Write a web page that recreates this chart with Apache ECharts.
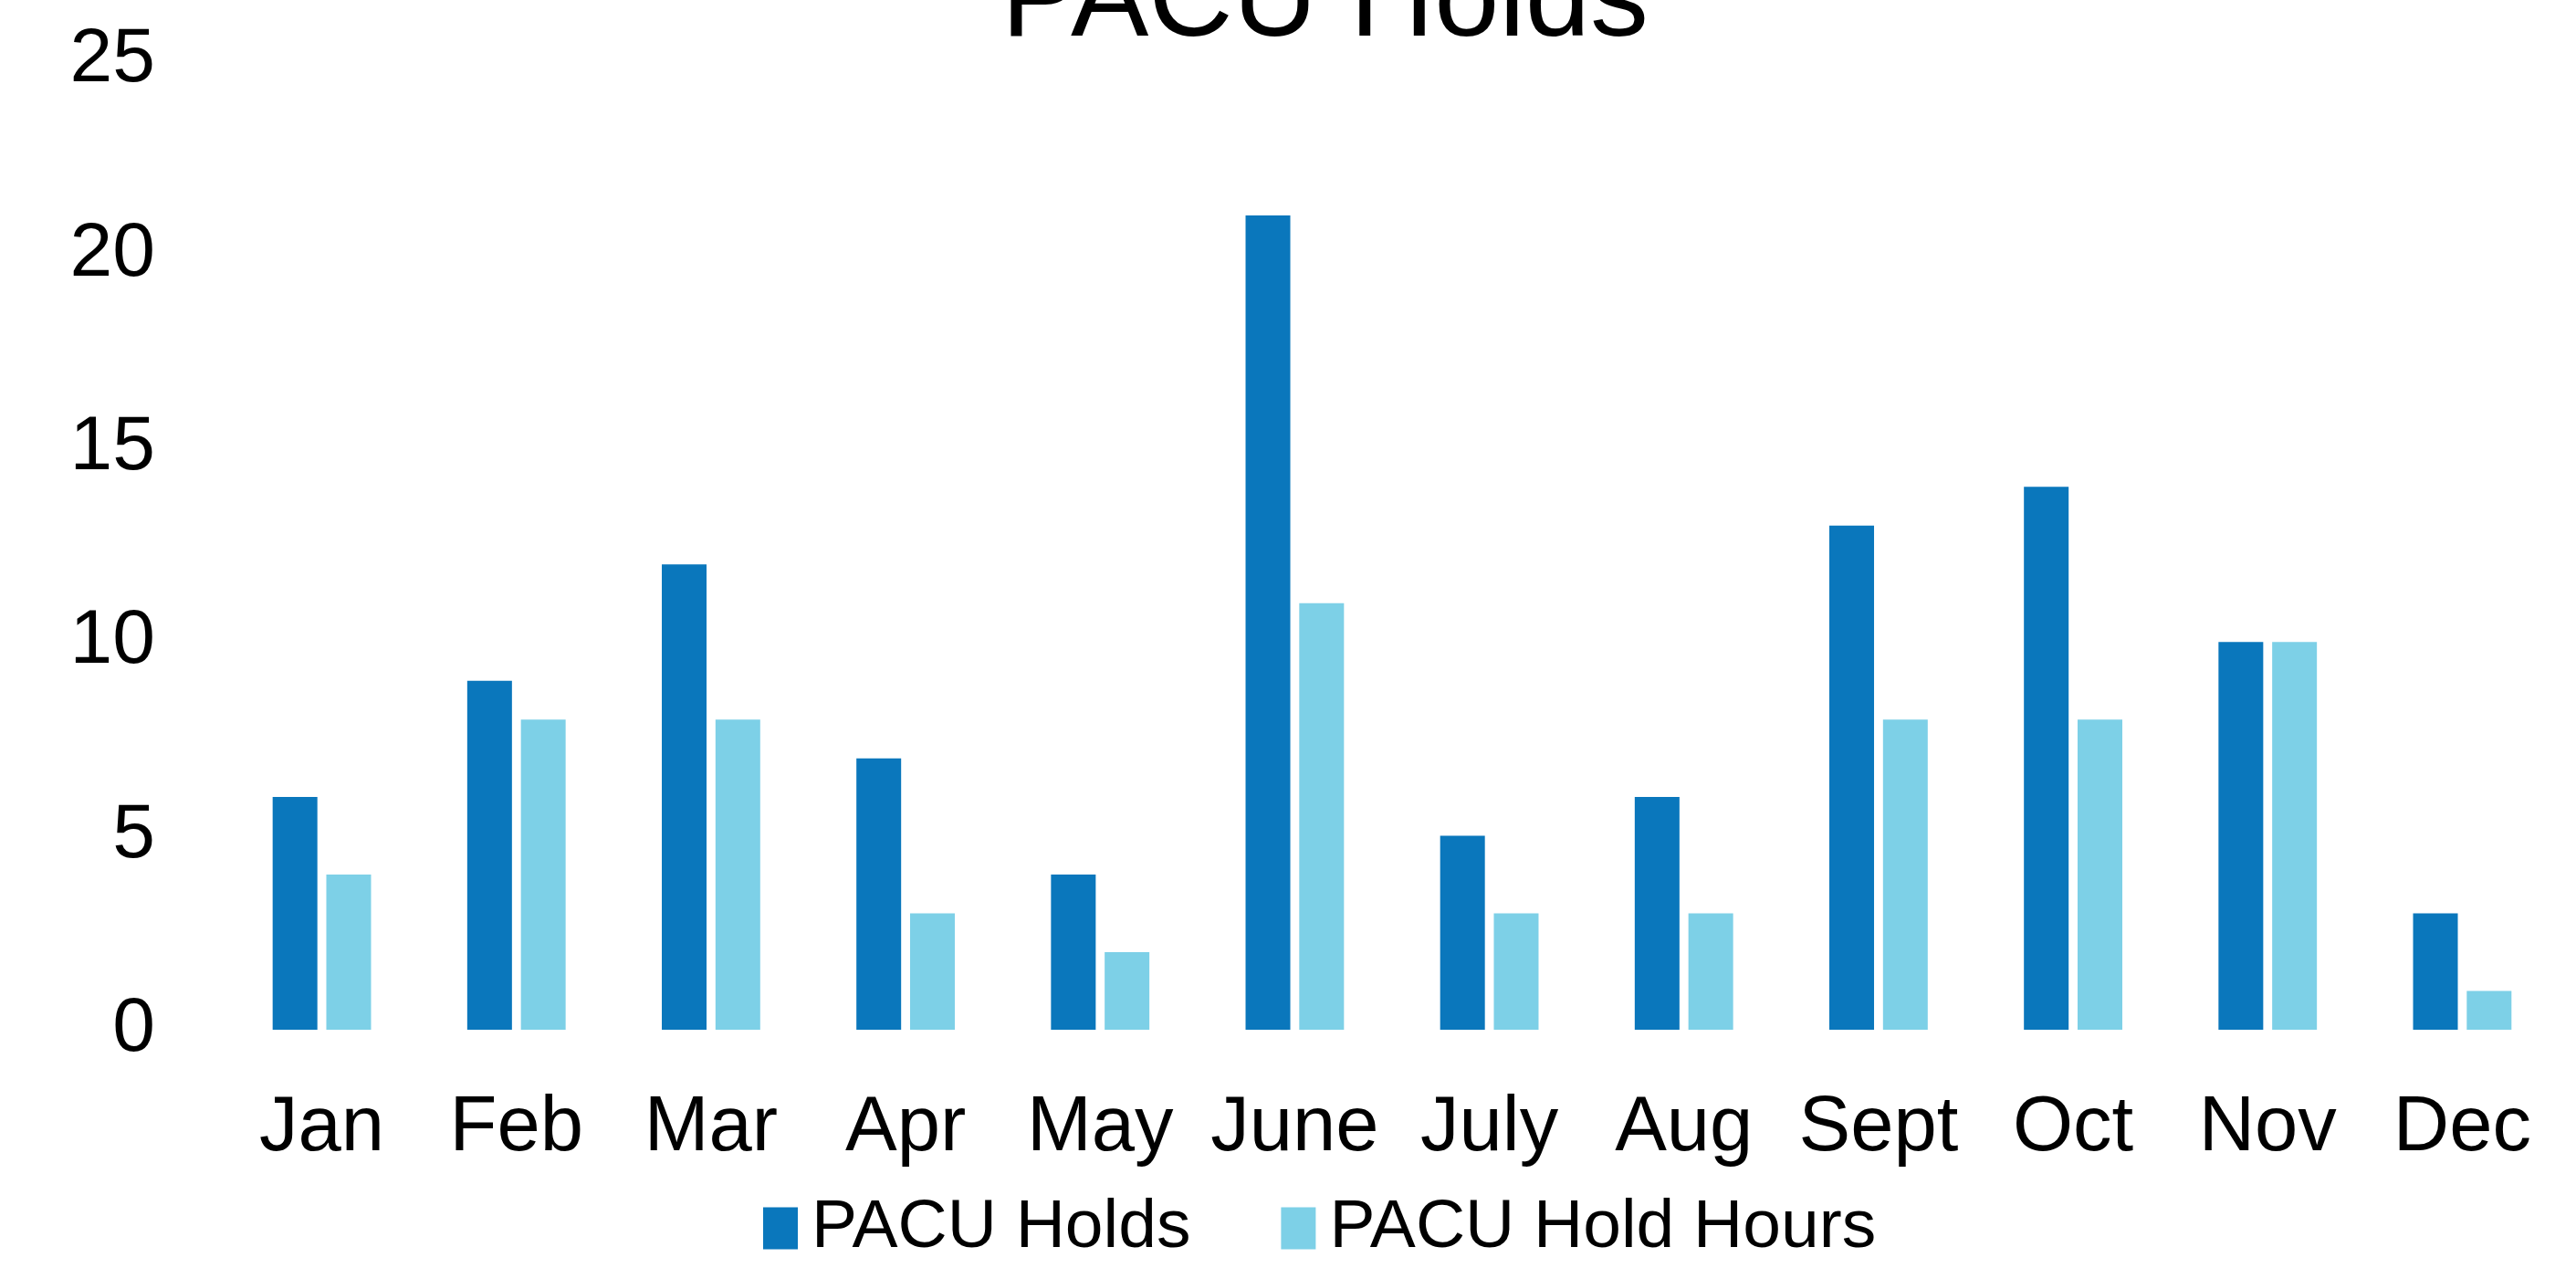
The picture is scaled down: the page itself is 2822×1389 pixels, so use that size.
<!DOCTYPE html>
<html>
<head>
<meta charset="utf-8">
<script src="https://cdn.jsdelivr.net/npm/echarts@6/dist/echarts.min.js"></script>
<style>
  html, body { margin: 0; padding: 0; background: #ffffff; overflow: hidden; }
  #chart { width: 2822px; height: 1389px; }
</style>
</head>
<body>
<div id="chart"></div>
<script>
const months = ['Jan', 'Feb', 'Mar', 'Apr', 'May', 'June', 'July', 'Aug', 'Sept', 'Oct', 'Nov', 'Dec'];
const pacuHolds = [6, 9, 12, 7, 4, 21, 5, 6, 13, 14, 10, 3];
const pacuHoldHours = [4, 8, 8, 3, 2, 11, 3, 3, 8, 8, 10, 1];
const seriesNames = ['PACU Holds', 'PACU Hold Hours'];
const yTicks = { min: 0, max: 25, interval: 5 };

const chart = echarts.init(document.getElementById('chart'));
const font = '"Liberation Sans", Arial, sans-serif';
chart.setOption({
  animation: false,
  backgroundColor: '#ffffff',
  title: {
    text: 'PACU Holds',
    left: 1097,
    top: -60,
    padding: 0,
    textStyle: { fontFamily: font, fontSize: 128, fontWeight: 'normal', color: '#000000' }
  },
  legend: {
    data: seriesNames,
    left: 836,
    top: 1308,
    padding: 0,
    itemWidth: 38,
    itemHeight: 46,
    itemGap: 99,
    icon: 'rect',
    textStyle: { fontFamily: font, fontSize: 75, color: '#000000', padding: [0, 0, 0, 10] }
  },
  grid: { left: 246, right: 18, top: 66, bottom: 261, containLabel: false },
  xAxis: {
    type: 'category',
    data: months,
    axisLine: { show: false },
    axisTick: { show: false },
    axisLabel: { fontFamily: font, fontSize: 85, color: '#000000', margin: 66, interval: 0 }
  },
  yAxis: {
    type: 'value',
    min: yTicks.min,
    max: yTicks.max,
    interval: yTicks.interval,
    axisLine: { show: false },
    axisTick: { show: false },
    splitLine: { show: false },
    axisLabel: { fontFamily: font, fontSize: 84, color: '#000000', margin: 76 }
  },
  series: [
    { name: seriesNames[0], type: 'bar', data: pacuHolds, barWidth: 49, barGap: '20%',
      itemStyle: { color: '#0A77BC' } },
    { name: seriesNames[1], type: 'bar', data: pacuHoldHours, barWidth: 49, barGap: '20%',
      itemStyle: { color: '#7DD0E7' } }
  ]
});
</script>
</body>
</html>
